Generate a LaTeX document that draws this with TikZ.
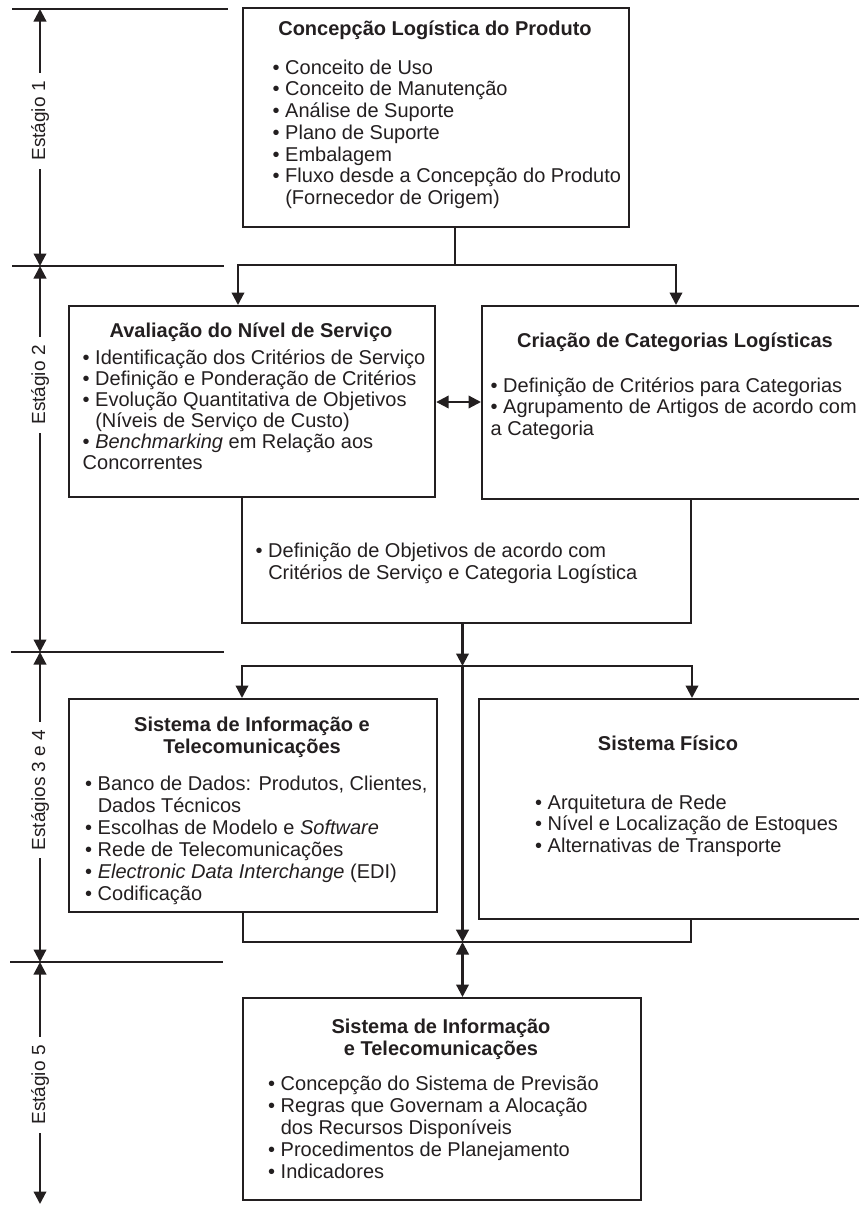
\documentclass[tikz,border=0pt]{standalone}
\usepackage{fontspec}
\setmainfont{Liberation Sans}
\usetikzlibrary{arrows.meta,calc}
\definecolor{ink}{RGB}{35,31,32}
\newcommand\ts{\rule{0pt}{19pt}}
\newcommand\cont{\hphantom{• }}
\newcommand\lsk{\lineskiplimit=-50pt\relax}
\begin{document}
\begin{tikzpicture}[x=1pt,y=-1pt,
  every node/.style={inner sep=0pt, text=ink},
  box/.style={draw=ink, line width=2.2pt, anchor=north west, inner sep=0pt},
  ttl/.style={font=\fontsize{20}{22}\selectfont\bfseries, anchor=base},
  ttltwo/.style={font=\fontsize{20}{22.5}\selectfont\bfseries\lsk, anchor=north, align=center},
  lst/.style={font=\fontsize{20}{#1}\selectfont\lsk, anchor=north west, align=left},
  lst/.default=22,
  ln/.style={draw=ink, line width=2.2pt},
  arr/.style={ln, -{Triangle[width=12.5pt,length=12.5pt]}},
  darr/.style={ln, {Triangle[width=12.5pt,length=12.5pt]}-{Triangle[width=12.5pt,length=12.5pt]}},
  stg/.style={font=\fontsize{19}{21}\selectfont, rotate=90, fill=white, inner xsep=8pt, inner ysep=3pt},
]
\useasboundingbox (0,0) rectangle (859,1205);

% ---- stage markers
\coordinate (s0) at (40,9);
\coordinate (s1) at (40,266);
\coordinate (s2) at (40,652);
\coordinate (s3) at (40,962);
\coordinate (s4) at (40,1204);
\draw[ln, line width=1.9pt] (12,9) -- (228,9);
\draw[ln, line width=1.9pt] (12,266) -- (224,266);
\draw[ln, line width=1.9pt] (11,652) -- (224,652);
\draw[ln, line width=1.9pt] (10,962) -- (223,962);
\draw[darr] (s0) -- (s1);
\draw[darr] (s1) -- (s2);
\draw[darr] (s2) -- (s3);
\draw[darr] (s3) -- (s4);
\node[stg] (st1) at (40,121) {Estágio 1};
\node[stg] (st2) at (40,385) {Estágio 2};
\node[stg] (st3) at (40,790) {Estágios 3 e 4};
\node[stg] (st5) at (40,1085) {Estágio 5};

% ---- stage 1
\node[box, minimum width=386pt, minimum height=219pt] (c1) at (242,7) {};
\node[ttl] (c1t) at (435,35) {Concepção Logística do Produto};
\node[lst=21.7] (c1l) at (272.5,55) {\ts• Conceito de Uso\\• Conceito de Manutenção\\• Análise de Suporte\\• Plano de Suporte\\• Embalagem\\• Fluxo desde a Concepção do Produto\\\cont(Fornecedor de Origem)};

% ---- stage 2
\node[box, minimum width=366pt, minimum height=191pt] (aval) at (68,305) {};
\node[ttl] (avalt) at (251,337) {Avaliação do Nível de Serviço};
\node[lst=21] (avall) at (82.5,345) {\ts• Identificação dos Critérios de Serviço\\• Definição e Ponderação de Critérios\\• Evolução Quantitativa de Objetivos\\\cont(Níveis de Serviço de Custo)\\• \textit{Benchmarking} em Relação aos\\Concorrentes};

\node[box, minimum width=388pt, minimum height=193pt] (cria) at (481,305) {};
\node[ttl] (criat) at (675,347) {Criação de Categorias Logísticas};
\node[lst=21.7] (cral) at (490.5,373) {\ts• Definição de Critérios para Categorias\\• Agrupamento de Artigos de acordo com\\a Categoria};

\node[lst=22] (def) at (255.5,538) {\ts• Definição de Objetivos de acordo com\\\cont Critérios de Serviço e Categoria Logística};

% ---- stages 3 and 4
\node[box, minimum width=368pt, minimum height=213pt] (si) at (68,698) {};
\node[ttltwo] (sit) at (252,712) {\ts Sistema de Informação e\\Telecomunicações};
\node[lst=22] (sil) at (85,771) {\ts• Banco de Dados: Produtos, Clientes,\\\cont Dados Técnicos\\• Escolhas de Modelo e \textit{Software}\\• Rede de Telecomunicações\\• \textit{Electronic Data Interchange} (EDI)\\• Codificação};

\node[box, minimum width=392pt, minimum height=220pt] (sf) at (478,698) {};
\node[ttl] (sft) at (668,750) {Sistema Físico};
\node[lst=21.5] (sfl) at (535,790) {\ts• Arquitetura de Rede\\• Nível e Localização de Estoques\\• Alternativas de Transporte};

% ---- stage 5
\node[box, minimum width=398pt, minimum height=202pt] (bot) at (242,997) {};
\node[ttltwo] (bott) at (441,1014) {\ts Sistema de Informação\\e Telecomunicações};
\node[lst=22] (botl) at (268,1071) {\ts• Concepção do Sistema de Previsão\\• Regras que Governam a Alocação\\\cont dos Recursos Disponíveis\\• Procedimentos de Planejamento\\• Indicadores};

% ---- connectors
\coordinate (j1) at (455,265);
\coordinate (j1l) at (238,265);
\coordinate (j1r) at (676,265);
\draw[ln] (c1.south -| j1) -- (j1);
\draw[arr] (j1) -- (j1l) -- (j1l |- aval.north);
\draw[arr] (j1) -- (j1r) -- (j1r |- cria.north);

\coordinate (m) at (0,402);
\draw[darr] (aval.east |- m) -- (cria.west |- m);

\coordinate (dl) at (242,623);
\coordinate (dr) at (691,623);
\draw[ln] (dl |- aval.south) -- (dl) -- (dr) -- (dr |- cria.south);

\coordinate (j2) at (462.5,666);
\coordinate (j2l) at (242,666);
\coordinate (j2r) at (692,666);
\draw[arr] (dl -| j2) -- (j2);
\draw[arr] (j2) -- (j2l) -- (j2l |- si.north);
\draw[arr] (j2) -- (j2r) -- (j2r |- sf.north);

\coordinate (j3) at (462.5,942);
\draw[arr, line width=3pt] (j2) -- (j3);

\coordinate (bl) at (243,942);
\coordinate (br) at (691,942);
\draw[ln] (bl |- si.south) -- (bl) -- (br) -- (br |- sf.south);
\draw[darr] (j3) -- (j3 |- bot.north);
\end{tikzpicture}
\end{document}
